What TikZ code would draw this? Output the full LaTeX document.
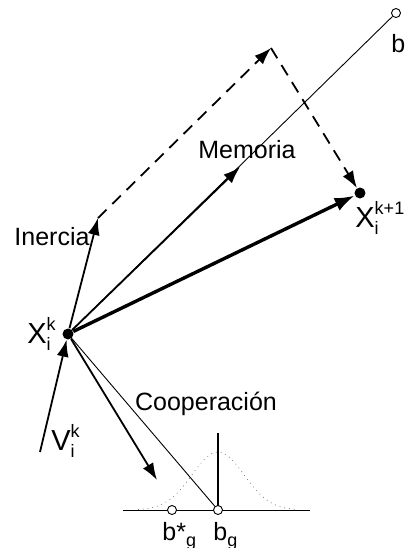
\documentclass[tikz,border=0pt]{standalone}
\usepackage{fontspec}
\setmainfont{Liberation Sans}
\usetikzlibrary{arrows.meta}
\newcommand{\vsubsup}[3]{#1\rlap{\raisebox{-0.5ex}{\fontsize{9}{9}\selectfont #2}}\raisebox{0.8ex}{\fontsize{9}{9}\selectfont #3}}
\tikzset{
  vec/.style={line width=0.9pt, -{Latex[length=8.5pt,width=6pt]}},
  bigvec/.style={line width=1.7pt, -{Latex[length=10pt,width=7pt]}},
  dashvec/.style={line width=0.9pt, dash pattern=on 6pt off 4pt, -{Latex[length=8.5pt,width=6pt]}},
  thinline/.style={line width=0.45pt},
  dot/.style={circle, fill, inner sep=0pt, minimum size=5.5pt},
  opendot/.style={circle, draw, fill=white, line width=0.45pt, inner sep=0pt, minimum size=4.5pt},
  lbl/.style={inner sep=0pt, font=\fontsize{12.5}{14}\selectfont},
  xlbl/.style={inner sep=0pt, font=\fontsize{14.5}{16}\selectfont}
}
\begin{document}
\begin{tikzpicture}[x=0.5pt, y=-0.5pt]
  \useasboundingbox (0,0) rectangle (404,548);
  % points
  \node[dot] (xk) at (68,334) {};
  \node[dot] (xk1) at (360,193) {};
  \coordinate (vstart) at (40,452);
  \coordinate (inerciatip) at (98,218);
  \coordinate (apex) at (271,48);
  \coordinate (memtip) at (240,167);
  \coordinate (cooptip) at (157,480);
  \coordinate (axl) at (123,510);
  \coordinate (axr) at (310,510);
  \coordinate (bgtop) at (218,433);
  % thin lines to the best positions
  \draw[thinline] (axl) -- (axr);
  \draw[gray, dotted, line width=0.4pt] plot[domain=138:298, samples=80]
    (\x, {510-58*exp(-((\x-218)/26)^2/2)});
  \draw[line width=0.6pt] (bgtop) -- (218,510);
  \node[opendot] (bi) at (396,13) {};
  \node[opendot] (bg) at (218,510) {};
  \node[opendot] (bstar) at (172,510) {};
  \draw[thinline] (xk.center) -- (bi);
  \draw[thinline] (xk.center) -- (bg);
  % vectors
  \draw[vec] (vstart) -- (xk);
  \draw[vec] (xk) -- (inerciatip);
  \draw[vec] (xk) -- (memtip);
  \draw[vec] (xk) -- (cooptip);
  \draw[bigvec] (xk) -- (xk1);
  \draw[dashvec] (inerciatip) -- (apex);
  \draw[dashvec] (apex) -- (xk1);
  % labels
  \node[lbl, anchor=base] (memoria) at (247,158) {Memoria};
  \node[lbl, anchor=base] (inercia) at (52,245) {Inercia};
  \node[lbl, anchor=base] (coop) at (206,410) {Cooperación};
  \node[xlbl, anchor=base west] (xklbl) at (27,343) {\vsubsup{X}{i}{k}};
  \node[xlbl, anchor=base west] (xk1lbl) at (355,227) {\vsubsup{X}{i}{k+1}};
  \node[xlbl, anchor=base west] (vlbl) at (51,450) {\vsubsup{V}{i}{k}};
  \node[lbl, anchor=base west] (blbl) at (391,52) {b};
  \node[lbl, anchor=base west] (bstarlbl) at (162,540) {b*\raisebox{-0.5ex}{\fontsize{9}{9}\selectfont g}};
  \node[lbl, anchor=base west] (bglbl) at (213,540) {b\raisebox{-0.5ex}{\fontsize{9}{9}\selectfont g}};
\end{tikzpicture}
\end{document}
